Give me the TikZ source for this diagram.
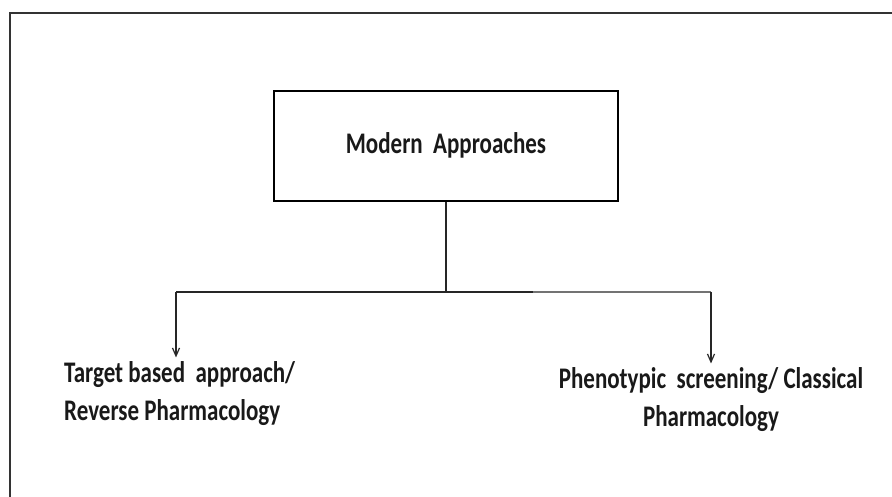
\documentclass[tikz,border=0pt]{standalone}
\usepackage{fontspec}
\setmainfont{Carlito}
\usetikzlibrary{arrows.meta}
\newcommand{\vtext}[2]{\scalebox{1}[1.3]{\fontsize{23}{29.5}\selectfont\bfseries\begin{tabular}{@{}#1@{}}#2\end{tabular}}}
\begin{document}
\begin{tikzpicture}[x=1pt,y=-1pt,
  conn/.style={line width=1.4pt, draw=black!85},
  tip/.style={-{Straight Barb[length=8pt,width=7pt,line width=1.2pt]}},
  lbl/.style={inner sep=0pt, text=black!90}]
\useasboundingbox (0,0) rectangle (892,497);
\fill[white] (0,0) rectangle (892,497);
\draw[line width=2pt, draw=black!80] (10,497) -- (10,13) -- (892,13);
\node[draw, line width=2pt, minimum width=344pt, minimum height=110pt, inner sep=0pt, text=black!90] (top) at (446,146) {\vtext{c}{Modern\ \ Approaches}};
\coordinate (j) at (446,292);
\coordinate (jl) at (176,292);
\coordinate (jm) at (533,292);
\coordinate (jr) at (711,292);
\draw[conn] (top.south) -- (j);
\draw[conn] (jl) -- (jm);
\draw[line width=2.2pt, draw=black!55] (jm) -- (jr);
\node[lbl, anchor=west] (tl) at (64,394) {\vtext{l}{Target based\ \ approach/\\Reverse Pharmacology}};
\node[lbl] (tr) at (711,400) {\vtext{c}{Phenotypic\ \ screening/ Classical\\Pharmacology}};
\draw[conn,tip] (jl) -- ([yshift=-2pt]jl |- tl.north);
\draw[conn,tip] (jr) -- ([yshift=-2pt]jr |- tr.north);
\end{tikzpicture}
\end{document}
